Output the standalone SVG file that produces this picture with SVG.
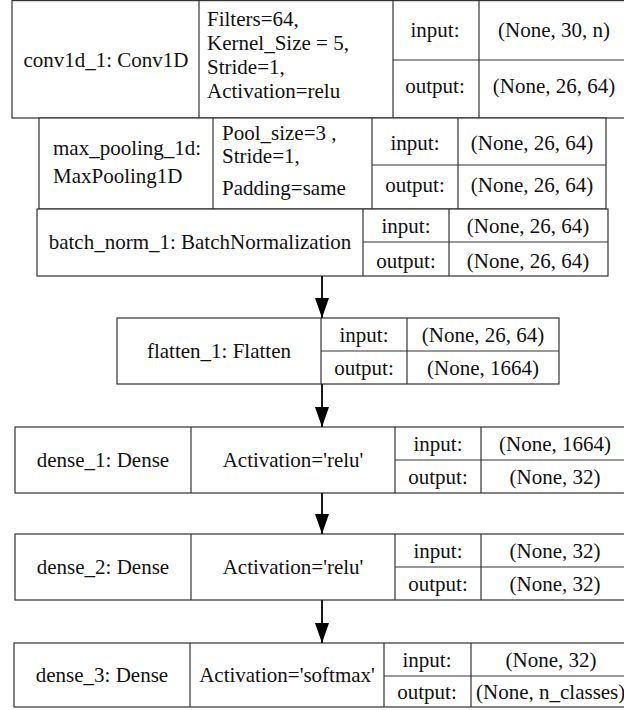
<svg xmlns="http://www.w3.org/2000/svg" width="624" height="710" viewBox="0 0 624 710">
  <style>
    .box { fill: #ffffff; stroke: #333333; stroke-width: 1.2; }
    .div { stroke: #333333; stroke-width: 1.2; fill: none; }
    text { font-family: "Liberation Serif", Tinos, "Nimbus Roman", FreeSerif, "Noto Serif", "DejaVu Serif", Times, "Times New Roman", serif; font-size: 21px; fill: #111111; }
    .c { text-anchor: middle; }
    .edge { stroke: #000000; stroke-width: 1.8; fill: none; }
  </style>
  <defs>
    <!-- filled head, drawn along +x so orient="auto" points it down each edge -->
    <marker id="arrow" markerWidth="20" markerHeight="14" refX="20" refY="7" orient="auto" markerUnits="userSpaceOnUse" viewBox="0 0 20 14">
      <path d="M0,0 L20,7 L0,14 Z" fill="#000000"/>
    </marker>
  </defs>
  <rect width="624" height="710" fill="#ffffff"/>

  <!-- conv1d_1 -->
  <g id="conv1d_1">
    <rect class="box" x="12" y="0.6" width="618" height="117.4"/>
    <line class="div" x1="199" y1="0" x2="199" y2="118"/>
    <line class="div" x1="393" y1="0" x2="393" y2="118"/>
    <line class="div" x1="479" y1="0" x2="479" y2="118"/>
    <line class="div" x1="393" y1="60" x2="624" y2="60"/>
    <text class="c" x="106" y="67">conv1d_1: Conv1D</text>
    <text x="207" y="26">Filters=64,</text>
    <text x="207" y="50">Kernel_Size = 5,</text>
    <text x="207" y="74">Stride=1,</text>
    <text x="207" y="98">Activation=relu</text>
    <text class="c" x="435" y="37">input:</text>
    <text class="c" x="435" y="93">output:</text>
    <text class="c" x="554" y="37">(None, 30, n)</text>
    <text class="c" x="554" y="93">(None, 26, 64)</text>
  </g>

  <!-- max_pooling_1d -->
  <g id="max_pooling_1d">
    <rect class="box" x="39" y="118" width="567" height="91"/>
    <line class="div" x1="213" y1="118" x2="213" y2="209"/>
    <line class="div" x1="372" y1="118" x2="372" y2="209"/>
    <line class="div" x1="458" y1="118" x2="458" y2="209"/>
    <line class="div" x1="372" y1="165" x2="606" y2="165"/>
    <text x="53" y="155">max_pooling_1d:</text>
    <text x="53" y="183">MaxPooling1D</text>
    <text x="222" y="140">Pool_size=3 ,</text>
    <text x="222" y="163">Stride=1,</text>
    <text x="222" y="195">Padding=same</text>
    <text class="c" x="415" y="150">input:</text>
    <text class="c" x="415" y="192">output:</text>
    <text class="c" x="532" y="150">(None, 26, 64)</text>
    <text class="c" x="532" y="192">(None, 26, 64)</text>
  </g>

  <!-- batch_norm_1 -->
  <g id="batch_norm_1">
    <rect class="box" x="37" y="209" width="571" height="67"/>
    <line class="div" x1="363" y1="209" x2="363" y2="276"/>
    <line class="div" x1="449" y1="209" x2="449" y2="276"/>
    <line class="div" x1="363" y1="242" x2="608" y2="242"/>
    <text class="c" x="200" y="249">batch_norm_1: BatchNormalization</text>
    <text class="c" x="406" y="233">input:</text>
    <text class="c" x="406" y="268">output:</text>
    <text class="c" x="528" y="233">(None, 26, 64)</text>
    <text class="c" x="528" y="268">(None, 26, 64)</text>
  </g>

  <!-- flatten_1 -->
  <g id="flatten_1">
    <rect class="box" x="117" y="318" width="442" height="66"/>
    <line class="div" x1="321" y1="318" x2="321" y2="384"/>
    <line class="div" x1="407" y1="318" x2="407" y2="384"/>
    <line class="div" x1="321" y1="351" x2="559" y2="351"/>
    <text class="c" x="219" y="358">flatten_1: Flatten</text>
    <text class="c" x="364" y="342">input:</text>
    <text class="c" x="364" y="375">output:</text>
    <text class="c" x="483" y="342">(None, 26, 64)</text>
    <text class="c" x="483" y="375">(None, 1664)</text>
  </g>

  <!-- dense_1 -->
  <g id="dense_1">
    <rect class="box" x="15" y="427" width="615" height="66"/>
    <line class="div" x1="191" y1="427" x2="191" y2="493"/>
    <line class="div" x1="395" y1="427" x2="395" y2="493"/>
    <line class="div" x1="481" y1="427" x2="481" y2="493"/>
    <line class="div" x1="395" y1="460" x2="624" y2="460"/>
    <text class="c" x="103" y="467">dense_1: Dense</text>
    <text class="c" x="293" y="467">Activation='relu'</text>
    <text class="c" x="438" y="451">input:</text>
    <text class="c" x="438" y="484">output:</text>
    <text class="c" x="555" y="451">(None, 1664)</text>
    <text class="c" x="555" y="484">(None, 32)</text>
  </g>

  <!-- dense_2 -->
  <g id="dense_2">
    <rect class="box" x="15" y="534" width="615" height="66"/>
    <line class="div" x1="191" y1="534" x2="191" y2="600"/>
    <line class="div" x1="395" y1="534" x2="395" y2="600"/>
    <line class="div" x1="481" y1="534" x2="481" y2="600"/>
    <line class="div" x1="395" y1="567" x2="624" y2="567"/>
    <text class="c" x="103" y="574">dense_2: Dense</text>
    <text class="c" x="293" y="574">Activation='relu'</text>
    <text class="c" x="438" y="558">input:</text>
    <text class="c" x="438" y="591">output:</text>
    <text class="c" x="555" y="558">(None, 32)</text>
    <text class="c" x="555" y="591">(None, 32)</text>
  </g>

  <!-- dense_3 -->
  <g id="dense_3">
    <rect class="box" x="14" y="643" width="616" height="64"/>
    <line class="div" x1="190" y1="643" x2="190" y2="707"/>
    <line class="div" x1="384" y1="643" x2="384" y2="707"/>
    <line class="div" x1="471" y1="643" x2="471" y2="707"/>
    <line class="div" x1="384" y1="676" x2="624" y2="676"/>
    <text class="c" x="102" y="682">dense_3: Dense</text>
    <text class="c" x="287" y="682">Activation='softmax'</text>
    <text class="c" x="427" y="667">input:</text>
    <text class="c" x="427" y="699">output:</text>
    <text class="c" x="551" y="667">(None, 32)</text>
    <text x="476" y="699">(None, n_classes)</text>
  </g>

  <!-- connectors -->
  <g id="connectors">
    <line class="edge" x1="322" y1="276" x2="322" y2="318" marker-end="url(#arrow)"/>
    <line class="edge" x1="322" y1="384" x2="322" y2="427" marker-end="url(#arrow)"/>
    <line class="edge" x1="322" y1="493" x2="322" y2="534" marker-end="url(#arrow)"/>
    <line class="edge" x1="322" y1="600" x2="322" y2="643" marker-end="url(#arrow)"/>
  </g>
</svg>
